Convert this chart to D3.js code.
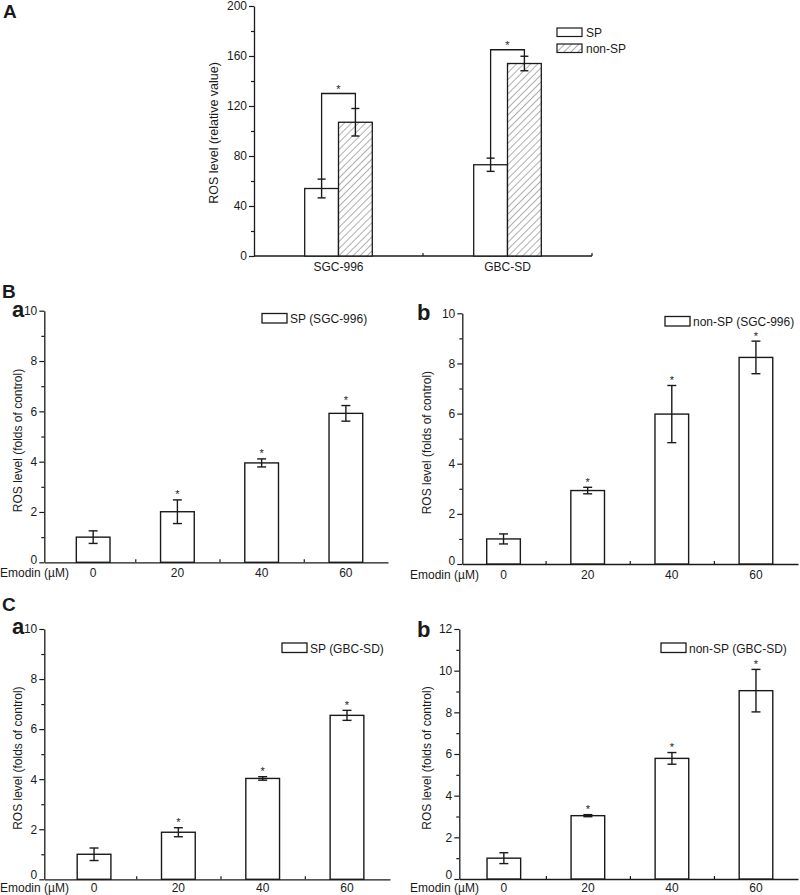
<!DOCTYPE html>
<html><head><meta charset="utf-8">
<script src="https://cdn.jsdelivr.net/npm/d3@7"></script>
<style>
body{margin:0;background:#fff}
svg{display:block;font-family:"Liberation Sans",Arial,Helvetica,sans-serif}
</style></head>
<body><svg id="c" width="800" height="895"></svg>
<script>
// ---------- DATA ----------
const groupsA = ["SGC-996", "GBC-SD"];
const spA = [54, 73];
const spAErr = [7.5, 5.3];
const nonspA = [107, 154];
const nonspAErr = [11, 5.8];
const sigLevelA = [130, 165];
const yTicksA = [0, 40, 80, 120, 160, 200];
const yMinorA = [20, 60, 100, 140, 180];
const seriesA = ["SP", "non-SP"];

const doses = ["0", "20", "40", "60"];
const baVals = [1.0, 2.01, 3.95, 5.92];
const baErr  = [0.25, 0.47, 0.16, 0.31];
const bbVals = [1.0, 2.93, 5.98, 8.24];
const bbErr  = [0.2, 0.13, 1.14, 0.65];
const caVals = [1.0, 1.88, 4.03, 6.55];
const caErr  = [0.25, 0.18, 0.07, 0.2];
const cbVals = [1.0, 3.04, 5.79, 9.04];
const cbErr  = [0.26, 0.05, 0.28, 1.02];
const starFlags = [false, true, true, true];
const yTicksB = [0, 2, 4, 6, 8, 10];
const yMinorB = [1, 3, 5, 7, 9];
const yTicksCb = [0, 2, 4, 6, 8, 10, 12];
const yMinorCb = [1, 3, 5, 7, 9, 11];
const legendNames = ["SP (SGC-996)", "non-SP (SGC-996)", "SP (GBC-SD)", "non-SP (GBC-SD)"];
const xTitle = "Emodin (\u00B5M)";
const yTitleA = "ROS level (relative value)";
const yTitleB = "ROS level (folds of control)";

// ---------- DRAW ----------
const svg = d3.select("#c");
const INK = "#1a1a1a";
const defs = svg.append("defs");
const pat = defs.append("pattern").attr("id", "hatch").attr("patternUnits", "userSpaceOnUse")
  .attr("width", 5).attr("height", 5).attr("patternTransform", "rotate(45)");
pat.append("rect").attr("width", 5).attr("height", 5).attr("fill", "#fff");
pat.append("line").attr("x1", 0).attr("y1", 0).attr("x2", 0).attr("y2", 5)
  .attr("stroke", "#333").attr("stroke-width", 0.8);

function styleAxis(g) {
  g.select(".domain").attr("stroke", INK).attr("stroke-width", 1.3);
  g.selectAll(".tick line").attr("stroke", INK).attr("stroke-width", 1.2);
  g.selectAll(".tick text").attr("fill", INK).attr("font-size", 12)
    .attr("font-family", '"Liberation Sans",Arial,sans-serif');
}

function yAxes(y, x0, major, minor, zeroLift) {
  const g1 = svg.append("g").attr("transform", `translate(${x0},0)`)
    .call(d3.axisLeft(y).tickValues(major).tickSize(5).tickSizeOuter(0).tickPadding(2).tickFormat(d3.format("d")));
  styleAxis(g1);
  if (zeroLift) g1.selectAll(".tick").filter(d => d === 0).select("text").attr("y", -zeroLift);
  const g2 = svg.append("g").attr("transform", `translate(${x0},0)`)
    .call(d3.axisLeft(y).tickValues(minor).tickSize(3).tickSizeOuter(0).tickFormat(""));
  g2.select(".domain").remove();
  styleAxis(g2);
}

function errBar(g, cx, yv, e, y, cap) {
  const top = y(yv + e), bot = y(yv - e);
  g.append("line").attr("x1", cx).attr("x2", cx).attr("y1", top).attr("y2", bot);
  g.append("line").attr("x1", cx - cap / 2).attr("x2", cx + cap / 2).attr("y1", top).attr("y2", top);
  g.append("line").attr("x1", cx - cap / 2).attr("x2", cx + cap / 2).attr("y1", bot).attr("y2", bot);
}

function label(txt, x, yb, size, weight, anchor) {
  svg.append("text").attr("x", x).attr("y", yb).attr("font-size", size)
    .attr("font-weight", weight || "normal").attr("text-anchor", anchor || "start")
    .attr("fill", INK).text(txt);
}

// ----- Panel A -----
(function () {
  const y = d3.scaleLinear().domain([0, 200]).range([256, 6]);
  const x = d3.scaleBand().domain(groupsA).range([254, 592]).padding(0);
  const bw = x.bandwidth() * 0.2;
  yAxes(y, 254, yTicksA, yMinorA, 0);
  const xa = svg.append("g").attr("transform", `translate(0,${y(0)})`)
    .call(d3.axisTop(x).tickSize(3).tickSizeOuter(0).tickFormat("").offset(0));
  xa.selectAll(".tick line").attr("transform", `translate(${x.bandwidth() / 2},0)`);
  xa.selectAll(".tick").filter((d, i) => i === groupsA.length - 1).remove();
  styleAxis(xa);
  xa.append("line").attr("x1", 592).attr("x2", 592).attr("y1", 0).attr("y2", -3).attr("stroke", INK).attr("stroke-width", 1.2);
  groupsA.forEach((gname, i) => {
    const c = x(gname) + x.bandwidth() / 2;
    label(gname, c, y(0) + 15, 12, "normal", "middle");
    const bars = svg.append("g").attr("stroke", INK).attr("stroke-width", 1.3);
    bars.append("rect").attr("x", c - bw).attr("y", y(spA[i])).attr("width", bw).attr("height", y(0) - y(spA[i])).attr("fill", "#fff");
    bars.append("rect").attr("x", c).attr("y", y(nonspA[i])).attr("width", bw).attr("height", y(0) - y(nonspA[i])).attr("fill", "url(#hatch)");
    const eg = svg.append("g").attr("stroke", INK).attr("stroke-width", 1.4);
    errBar(eg, c - bw / 2, spA[i], spAErr[i], y, 8);
    errBar(eg, c + bw / 2, nonspA[i], nonspAErr[i], y, 8);
    // significance bracket
    const lv = y(sigLevelA[i]);
    svg.append("path").attr("fill", "none").attr("stroke", INK).attr("stroke-width", 1.3)
      .attr("d", `M${c - bw / 2},${y(spA[i] + spAErr[i])}V${lv}H${c + bw / 2}V${y(nonspA[i] + nonspAErr[i])}`);
    label("*", c, lv - 1, 11, "normal", "middle");
  });
  // legend
  const lx = 557, ly = [28, 44];
  svg.append("rect").attr("x", lx).attr("y", ly[0]).attr("width", 25).attr("height", 8.5).attr("fill", "#fff").attr("stroke", INK).attr("stroke-width", 1.2);
  svg.append("rect").attr("x", lx).attr("y", ly[1]).attr("width", 25).attr("height", 8.5).attr("fill", "url(#hatch)").attr("stroke", INK).attr("stroke-width", 1.2);
  label(seriesA[0], lx + 29, ly[0] + 8.5, 12);
  label(seriesA[1], lx + 29, ly[1] + 8.5, 12);
  // y title
  svg.append("text").attr("transform", `translate(${215},${133}) rotate(-90)`).attr("text-anchor", "middle")
    .attr("dominant-baseline", "middle").attr("font-size", 12.5).attr("fill", INK).text(yTitleA);
  label("A", 3, 18, 19, "bold");
})();

// ----- B / C panels -----
function barPanel(cfg) {
  const y = d3.scaleLinear().domain([0, cfg.ymax]).range([cfg.y0, cfg.y1]);
  const x = d3.scaleLinear().domain(cfg.xdom).range([cfg.x0, cfg.x1]);
  yAxes(y, cfg.x0, cfg.major, cfg.minor, cfg.zl);
  const xa = svg.append("g").attr("transform", `translate(0,${cfg.y0})`)
    .call(d3.axisTop(x).tickValues([0.5, 1.5, 2.5]).tickSize(3).tickSizeOuter(0).tickFormat(""));
  styleAxis(xa);
  const bars = svg.append("g").attr("stroke", INK).attr("stroke-width", 1.4).attr("fill", "#fff");
  const eg = svg.append("g").attr("stroke", INK).attr("stroke-width", 1.4);
  cfg.vals.forEach((v, i) => {
    const l = x(i - 0.2), r = x(i + 0.2);
    bars.append("rect").attr("x", l).attr("y", y(v)).attr("width", r - l).attr("height", cfg.y0 - y(v));
    errBar(eg, x(i), v, cfg.errs[i], y, 9);
    if (starFlags[i]) label("*", x(i), y(v + cfg.errs[i]) - 1.5, 11, "normal", "middle");
    label(doses[i], x(i), cfg.y0 + cfg.lbOff, 12, "normal", "middle");
  });
  label(xTitle, cfg.xtX, cfg.y0 + cfg.lbOff, 12);
  // legend
  svg.append("rect").attr("x", cfg.lgX).attr("y", cfg.lgY).attr("width", 25).attr("height", 9.5)
    .attr("fill", "#fff").attr("stroke", INK).attr("stroke-width", 1.3);
  label(cfg.name, cfg.lgX + 28, cfg.lgY + 9.5, 12);
  svg.append("text").attr("transform", `translate(${cfg.ytX},${(cfg.y0 + cfg.y1) / 2 + 4}) rotate(-90)`)
    .attr("text-anchor", "middle").attr("dominant-baseline", "middle").attr("font-size", 12).attr("fill", INK).text(yTitleB);
}

barPanel({ vals: baVals, errs: baErr, ymax: 10, major: yTicksB, minor: yMinorB, y0: 562.3, y1: 310.7,
  x0: 44.3, x1: 388, xdom: [-0.58, 3.5], xtX: 0, lgX: 262, lgY: 313.5, name: legendNames[0], ytX: 19, lbOff: 14.7, zl: 3 });
barPanel({ vals: bbVals, errs: bbErr, ymax: 10, major: yTicksB, minor: yMinorB, y0: 564, y1: 313.3,
  x0: 462.3, x1: 798, xdom: [-0.49, 3.5], xtX: 410, lgX: 665, lgY: 316.5, name: legendNames[1], ytX: 428, lbOff: 14.7, zl: 3 });
barPanel({ vals: caVals, errs: caErr, ymax: 10, major: yTicksB, minor: yMinorB, y0: 879.3, y1: 629,
  x0: 44.3, x1: 390, xdom: [-0.59, 3.51], xtX: 0, lgX: 282, lgY: 643, name: legendNames[2], ytX: 19, lbOff: 12.7, zl: 4.5 });
barPanel({ vals: cbVals, errs: cbErr, ymax: 12, major: yTicksCb, minor: yMinorCb, y0: 879, y1: 629,
  x0: 459.3, x1: 798, xdom: [-0.53, 3.5], xtX: 410, lgX: 661, lgY: 643, name: legendNames[3], ytX: 428, lbOff: 12.7, zl: 4.5 });

label("B", 2, 298, 19, "bold");
label("a", 12, 317, 22, "bold");
label("b", 417, 320, 22, "bold");
label("C", 2, 611, 19, "bold");
label("a", 12, 634, 22, "bold");
label("b", 417, 637, 22, "bold");
</script></body></html>
